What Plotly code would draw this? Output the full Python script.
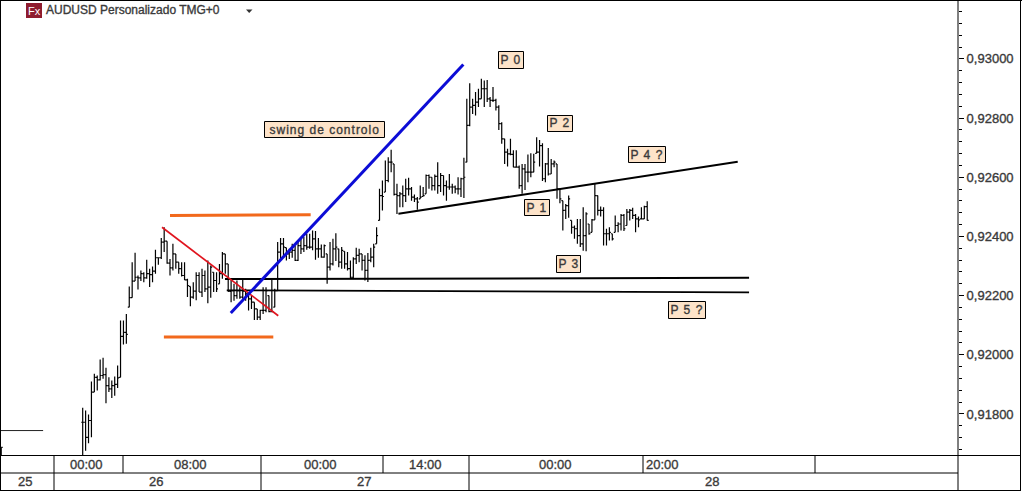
import plotly.graph_objects as go

# Prices in points (1e-5)
high_pts = [91821,91812,91798,91910,91936,91930,91984,91990,91956,91924,91913,91927,91964,92116,92116,92138,92231,92313,92345,92268,92285,92279,92321,92291,92298,92355,92330,92395,92431,92384,92324,92375,92341,92313,92313,92313,92257,92231,92245,92279,92279,92291,92285,92319,92302,
92279,92279,92307,92347,92341,92307,92257,92240,92251,92228,92253,92223,92206,92200,92178,92155,92152,92228,92228,92200,92257,92223,92381,
92395,92395,92362,92358,92375,92369,92386,92392,92398,92409,92409,92420,92418,92395,92373,92373,92341,92381,92392,92411,92358,92364,92350,92347,92319,92330,92362,92358,92341,92336,92344,92362,92375,92431,
92561,92589,92657,92668,92693,92645,92578,92550,92572,92595,92598,92567,92542,92533,92572,92567,92609,92609,92600,92609,92651,92614,92606,92589,92611,92578,92572,92600,92598,92666,92865,92918,92865,92888,92899,92933,92927,92929,92871,92905,92865,92843,92786,92730,92696,92730,92691,92691,
92640,92645,92645,92677,92681,92679,92735,92726,92715,92648,92699,92662,92657,92645,92561,92521,92510,92538,92454,92437,92459,92459,92499,92482,92442,92459,92578,92538,92501,92499,92426,92431,92409,92471,92448,92476,92476,92493,92493,92497,92476,92467,92499,92504,92519]
low_pts = [91650,91676,91701,91721,91874,91879,91913,91919,91836,91874,91854,91862,91888,91924,92035,92037,92161,92193,92249,92221,92249,92245,92257,92229,92245,92274,92304,92324,92347,92308,92268,92285,92291,92274,92265,92253,92195,92164,92189,92184,92212,92195,92212,92174,92193,
92212,92212,92240,92257,92274,92214,92178,92183,92189,92189,92189,92183,92150,92155,92118,92118,92118,92138,92144,92144,92144,92161,92217,
92324,92336,92319,92324,92328,92317,92317,92341,92347,92355,92358,92353,92321,92328,92328,92328,92240,92285,92302,92317,92296,92291,92291,92285,92257,92257,92307,92313,92285,92251,92246,92313,92296,92375,
92454,92488,92550,92583,92617,92538,92476,92499,92499,92516,92538,92521,92516,92490,92527,92535,92544,92561,92555,92555,92544,92550,92538,92521,92558,92544,92546,92542,92533,92530,92651,92772,92814,92809,92837,92865,92837,92854,92837,92854,92826,92760,92713,92645,92636,92674,92634,92634,
92561,92544,92557,92583,92600,92617,92681,92636,92587,92583,92606,92611,92634,92527,92512,92420,92459,92463,92409,92392,92375,92364,92352,92350,92406,92414,92456,92471,92467,92369,92369,92386,92386,92414,92414,92420,92418,92437,92454,92459,92414,92431,92459,92459,92454]
close_pts = [91772,91721,91778,91874,91924,91915,91930,91933,91896,91885,91896,91900,91922,92062,92076,92069,92193,92249,92262,92260,92274,92260,92274,92271,92283,92328,92328,92381,92384,92310,92294,92341,92313,92291,92268,92253,92234,92195,92215,92268,92212,92268,92223,92229,92296,
92251,92223,92274,92341,92307,92214,92217,92200,92217,92195,92215,92206,92189,92178,92155,92127,92150,92150,92217,92146,92146,92217,92347,
92375,92364,92341,92347,92353,92319,92369,92358,92369,92364,92364,92392,92358,92358,92330,92369,92296,92307,92358,92364,92313,92353,92307,92291,92262,92324,92336,92341,92319,92285,92319,92330,92364,92403,
92538,92535,92589,92651,92651,92542,92538,92544,92538,92561,92561,92533,92527,92516,92533,92538,92606,92600,92572,92603,92572,92606,92572,92567,92567,92567,92561,92561,92595,92600,92775,92837,92843,92854,92865,92899,92899,92865,92860,92860,92837,92781,92730,92685,92679,92677,92634,92634,
92572,92628,92617,92617,92617,92651,92685,92707,92595,92645,92611,92645,92651,92561,92527,92488,92504,92527,92431,92426,92403,92375,92403,92476,92409,92456,92538,92488,92488,92409,92409,92414,92392,92437,92442,92471,92426,92482,92488,92471,92459,92456,92459,92501,92454]

early_index = [-28]
early_high = [91687]
early_low = [91650]

orange_top = ([30.0, 78.35], [92471, 92473])
orange_bottom = ([27.9, 65.5], [92060, 92060])
red_line = ([27.25, 67.2], [92431, 92132])
blue_line = ([50.9, 130.8], [92141, 92981])
neck_line = ([108.5, 225.1], [92477, 92652])
level_a = ([48.9, 229.0], [92256, 92260])
level_b = ([49.5, 229.0], [92218, 92211])
old_level = ([-28.4, -13.6], [91744, 91744])

row1_labels = ["00:00", "08:00", "00:00", "14:00", "00:00", "20:00"]
row2_labels = ["25", "26", "27", "28"]
note_labels = ["swing de controlo", "P 0", "P 2", "P 4 ?", "P 1", "P 3", "P 5 ?"]

W, H = 1022, 491
PW, PH = 958, 456
def px(x): return x / PW
def py(y): return 1 - y / PH

highs = [v / 1e5 for v in high_pts]
lows = [v / 1e5 for v in low_pts]
closes = [v / 1e5 for v in close_pts]
opens = [closes[0]] + closes[:-1]
opens = [min(max(o, l), h) for o, l, h in zip(opens, lows, highs)]
idx = list(range(len(closes)))

fig = go.Figure()
bar_line = dict(color="black", width=1.2)
fig.add_trace(go.Ohlc(x=idx, open=opens, high=highs, low=lows, close=closes, tickwidth=0.5,
                      increasing=dict(line=bar_line), decreasing=dict(line=bar_line),
                      hoverinfo="skip", showlegend=False))
fig.add_trace(go.Ohlc(x=early_index, open=[v / 1e5 for v in early_low], high=[v / 1e5 for v in early_high],
                      low=[v / 1e5 for v in early_low], close=[v / 1e5 for v in early_high], tickwidth=0.5,
                      increasing=dict(line=bar_line), decreasing=dict(line=bar_line),
                      hoverinfo="skip", showlegend=False))

def seg(line, color, width):
    fig.add_trace(go.Scatter(x=line[0], y=[v / 1e5 for v in line[1]], mode="lines",
                             line=dict(color=color, width=width), hoverinfo="skip", showlegend=False))

seg(old_level, "#222222", 1)
seg(level_a, "black", 2)
seg(level_b, "black", 1.8)
seg(neck_line, "black", 2)
seg(orange_top, "#f2691c", 3)
seg(orange_bottom, "#f2691c", 3)
seg(red_line, "#e0141e", 1.7)
seg(blue_line, "#0c0cd6", 3)

FONT = "Liberation Sans, Arial, sans-serif"
TXT = "#3a3a3a"
def label(text, cx, cy, size=13, color=TXT, xanchor="center"):
    return dict(text=text, x=px(cx), y=py(cy), xref="paper", yref="paper", showarrow=False,
                xanchor=xanchor, yanchor="middle", font=dict(family=FONT, size=size, color=color))

ann = []
for text, cx in zip(row1_labels, [86, 190, 320, 425, 555, 662]):
    ann.append(label(text, cx, 464.5))
for text, cx in zip(row2_labels, [25, 156, 364, 712]):
    ann.append(label(text, cx, 481.5))

shapes = []
note_boxes = [(264, 384, 121, 137), (498, 523, 51, 68), (547, 572, 115, 131), (628, 665, 146, 162),
              (524, 549, 199, 215), (556, 580, 255, 272), (668, 705, 301, 318)]
for text, (x0, x1, y0, y1) in zip(note_labels, note_boxes):
    shapes.append(dict(type="rect", xref="paper", yref="paper", x0=px(x0 + .5), x1=px(x1 + .5), y0=py(y0 + .5), y1=py(y1 + .5),
                       fillcolor="#fde3c9", line=dict(color="black", width=1)))
    ann.append(label(text, (x0 + x1) / 2 + .5, (y0 + y1) / 2 + .5, size=12))
ann.append(label("AUDUSD Personalizado TMG+0", 44, 10.5, size=12, xanchor="left"))
ann.append(label("Fx", 34, 11, size=11, color="white"))

def rule(x0, y0, x1, y1, width=1):
    shapes.append(dict(type="line", xref="paper", yref="paper", x0=px(x0), y0=py(y0), x1=px(x1), y1=py(y1),
                       line=dict(color="black", width=width)))

rule(0, 0.5, W, 0.5)
rule(0.5, 0, 0.5, 490)
rule(0, 455.5, 1021, 455.5)
rule(0, 473, 958, 473)
rule(0, 490.5, 1021, 490.5)
rule(958, 0, 958, 490)
rule(1020.5, 0, 1020.5, 490)
for v in [54, 123, 261, 383, 469, 643, 815]:
    rule(v, 456, v, 473)
for v in [54, 261, 469]:
    rule(v, 473, v, 490)
shapes.append(dict(type="rect", xref="paper", yref="paper", x0=px(26), x1=px(42), y0=py(3), y1=py(18),
                   fillcolor="#8f1c2e", line=dict(width=0), layer="below"))
shapes.append(dict(type="path", xref="paper", yref="paper",
                   path=f"M {px(246)} {py(9.5)} L {px(252.5)} {py(9.5)} L {px(249.2)} {py(13)} Z",
                   fillcolor="#333333", line=dict(width=0)))

fig.update_layout(
    width=W, height=H, margin=dict(l=0, r=W - PW, t=0, b=H - PH, pad=0),
    paper_bgcolor="white", plot_bgcolor="white", separators=",.", showlegend=False,
    xaxis=dict(range=[-28.42, 300.8], visible=False, rangeslider=dict(visible=False), fixedrange=True),
    yaxis=dict(side="right", range=[0.91658, 0.93199], tick0=0.918, dtick=0.002, tickformat=".5f",
               ticks="outside", ticklen=5, tickcolor="black", tickwidth=1, showgrid=False, zeroline=False,
               showline=False, fixedrange=True,
               tickfont=dict(family=FONT, size=13, color=TXT),
               minor=dict(dtick=0.0004, tick0=0.918, ticks="outside", ticklen=3, tickcolor="black", tickwidth=1, showgrid=False)),
    annotations=ann, shapes=shapes,
)
post = """
document.body.style.margin='0';document.body.style.overflow='hidden';
document.querySelectorAll('.annotation-text, .ytick text').forEach(function(t){
  var s=t.textContent;
  if(s==='Fx'){return;}
  t.style.stroke='#3a3a3a';t.style.strokeWidth='0.35px';
  if(s.indexOf('swing')===0||/^P \\d/.test(s)){t.style.letterSpacing='1px';}
});
"""
fig.write_html("out.html", config=dict(displayModeBar=False), post_script=post)
